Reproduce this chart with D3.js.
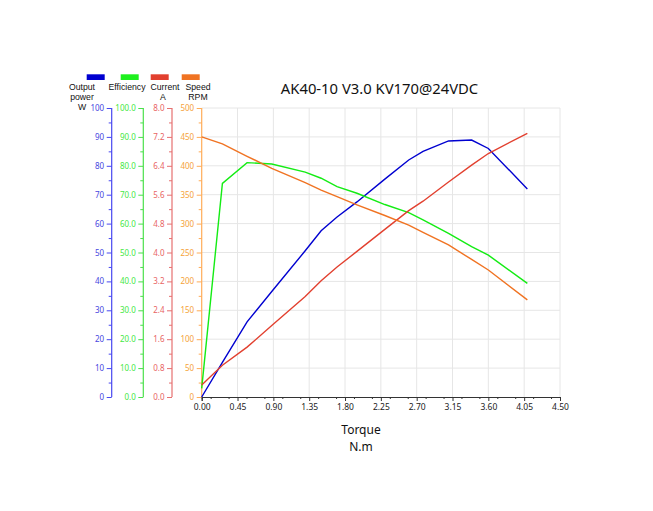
<!DOCTYPE html>
<html>
<head>
<meta charset="utf-8">
<script src="https://cdn.jsdelivr.net/npm/d3@7"></script>
<style>
  html, body { margin: 0; padding: 0; background: #fff; }
  svg { display: block; font-family: "Noto Sans", "DejaVu Sans", sans-serif; }
</style>
</head>
<body>
<svg id="chart" width="653" height="511"></svg>
<script>
// Torque sample points (N.m)
const torque = [0, 0.26, 0.57, 0.88, 1.30, 1.50, 1.70, 1.95, 2.30, 2.60, 2.78, 3.10, 3.39, 3.60, 4.09];

// Series values, one per torque sample
const power = [0, 12, 26, 36.5, 50.6, 57.5, 62.3, 67.5, 75.4, 82, 85, 88.6, 88.9, 86, 72];
const efficiency = [3, 73.9, 81.1, 80.6, 77.8, 75.7, 72.8, 70.5, 66.6, 63.8, 61.3, 56.6, 52, 49.1, 39.3];
const current = [0.33, 0.88, 1.38, 1.98, 2.78, 3.22, 3.6, 4.03, 4.64, 5.16, 5.42, 5.95, 6.42, 6.74, 7.3];
const speed = [450, 438, 416.5, 395.7, 371, 358, 346.5, 332.5, 314, 297.5, 285, 263, 238, 219.7, 168];

// Tick labels
const xTicks = [0, 0.45, 0.9, 1.35, 1.8, 2.25, 2.7, 3.15, 3.6, 4.05, 4.5];

const series = [
  { key: 'power', values: power, max: 100, fmt: d3.format('d'), axisX: 111.7,
    line: '#0000d0', axis: '#4848f0', label: '#4646e0', legend: ['Output', 'power', 'W'], lx: 82 },
  { key: 'eff', values: efficiency, max: 100, fmt: d3.format('.1f'), axisX: 143.3,
    line: '#14ec14', axis: '#4be04b', label: '#44e844', legend: ['Efficiency'], lx: 127 },
  { key: 'cur', values: current, max: 8, fmt: d3.format('.1f'), axisX: 172,
    line: '#e2402f', axis: '#e67070', label: '#e86464', legend: ['Current', 'A'], lx: 165 },
  { key: 'spd', values: speed, max: 500, fmt: d3.format('d'), axisX: 201.7,
    line: '#f07322', axis: '#ffac58', label: '#f5a23a', legend: ['Speed', 'RPM'], lx: 198 }
];

const legendRects = [86.7, 120.7, 150.7, 181.7];

const svg = d3.select('#chart');
const plotTop = 108, plotBottom = 397, plotLeft = 201.7, plotRight = 560;

const x = d3.scaleLinear().domain([0, 4.5]).range([plotLeft, plotRight]);

// Gridlines
const grid = svg.append('g').attr('class', 'grid');
grid.selectAll('line.v').data(xTicks.slice(1)).join('line')
  .attr('x1', d => x(d)).attr('x2', d => x(d))
  .attr('y1', plotTop).attr('y2', plotBottom)
  .attr('stroke', '#e6e6e6').attr('stroke-width', 1);
const yFrac = d3.scaleLinear().domain([0, 1]).range([plotBottom, plotTop]);
grid.selectAll('line.h').data(d3.range(1, 11).map(d => d / 10)).join('line')
  .attr('x1', plotLeft).attr('x2', plotRight)
  .attr('y1', d => yFrac(d)).attr('y2', d => yFrac(d))
  .attr('stroke', '#e6e6e6').attr('stroke-width', 1);

// Y axes
series.forEach(s => {
  s.y = d3.scaleLinear().domain([0, s.max]).range([plotBottom, plotTop]);
  const major = d3.range(0, 11).map(i => s.max * i / 10);
  const minor = d3.range(0, 10).map(i => s.max * (i + 0.5) / 10);

  const g = svg.append('g').attr('transform', `translate(${s.axisX},0)`);
  g.append('g').call(d3.axisLeft(s.y).tickValues(minor).tickSize(3).tickFormat(''));
  g.append('g').call(d3.axisLeft(s.y).tickValues(major).tickSize(5).tickPadding(2.5).tickFormat(s.fmt));
  g.selectAll('.domain').remove();
  g.selectAll('line').attr('stroke', s.axis);
  g.append('line').attr('y1', plotTop).attr('y2', plotBottom).attr('stroke', s.axis).attr('stroke-width', 1.2);
  g.selectAll('text').attr('fill', s.label).style('font-size', '8px').style('font-family', '"Noto Sans", sans-serif');
});

// X axis
const xg = svg.append('g').attr('transform', `translate(0,${plotBottom})`);
xg.append('g').call(d3.axisBottom(x).tickValues(d3.range(0, 20).map(i => 0.225 * i + 0.1125).filter(d => d < 4.5))
  .tickSize(2).tickFormat(''));
xg.append('g').call(d3.axisBottom(x).tickValues(xTicks).tickSize(4).tickPadding(3).tickFormat(d3.format('.2f')));
xg.selectAll('.domain').attr('stroke', '#333');
xg.selectAll('line').attr('stroke', '#333');
xg.selectAll('text').attr('fill', '#222').style('font-size', '8.5px').style('font-family', '"Noto Sans", sans-serif');

// Lines
series.forEach(s => {
  const line = d3.line().x((d, i) => x(torque[i])).y(d => s.y(d));
  svg.append('path').datum(s.values)
    .attr('d', line).attr('fill', 'none')
    .attr('stroke', s.line).attr('stroke-width', 1.4);
});

// Legend
series.forEach((s, i) => {
  svg.append('rect').attr('x', legendRects[i]).attr('y', 74.3)
    .attr('width', 18).attr('height', 5.7).attr('fill', s.line === '#14ec14' ? '#1ef01e' : s.line);
  s.legend.forEach((t, j) => {
    let tx = s.lx;
    if (s.key === 'cur' && j === 1) tx = 163;
    svg.append('text').attr('x', tx).attr('y', 90 + j * 10.2)
      .attr('text-anchor', 'middle').attr('fill', '#111')
      .style('font-family', '"Liberation Sans", Arial, sans-serif')
      .style('font-size', '8.7px').text(t);
  });
});

// Title
svg.append('text').attr('x', 379.5).attr('y', 93.5).attr('text-anchor', 'middle')
  .attr('fill', '#111').style('font-size', '14.8px').text('AK40-10 V3.0 KV170@24VDC');

// Axis title
svg.append('text').attr('x', 361).attr('y', 434).attr('text-anchor', 'middle')
  .attr('fill', '#111').style('font-size', '12px').text('Torque');
svg.append('text').attr('x', 361).attr('y', 451).attr('text-anchor', 'middle')
  .attr('fill', '#111').style('font-size', '12px').text('N.m');
</script>
</body>
</html>
